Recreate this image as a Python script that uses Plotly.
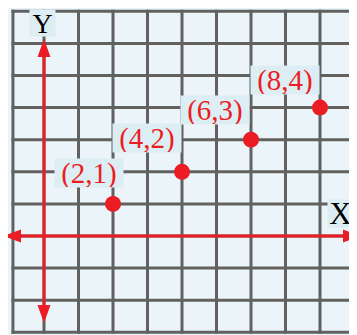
import plotly.graph_objects as go

# ---- data ----
point_x = [2, 4, 6, 8]
point_y = [1, 2, 3, 4]
point_labels = ["(2,1)", "(4,2)", "(6,3)", "(8,4)"]
grid_x = [0, 1, 2, 3, 4, 5, 6, 7, 8, 9]
grid_y = [-3, -2, -1, 0, 1, 2, 3, 4, 5, 6, 7]
grid_left = -0.9
axis_x_label = "X"
axis_y_label = "Y"

# ---- layout constants ----
# the page has a default 8px body margin, so the figure is drawn 8px smaller
OFF = 8
W, H = 357 - OFF, 335 - OFF
sx, sy = 34.5, 32.1                 # px per unit
X0_PX, Y0_PX = 44, 236              # reference pixel position of the origin
X_RANGE = [(OFF - X0_PX) / sx, (OFF + W - X0_PX) / sx]
Y_RANGE = [(Y0_PX - OFF - H) / sy, (Y0_PX - OFF) / sy]

RED = "#EC1C24"
GRID = "#616161"
BG = "#EBF5F9"
BOX = "#DCEEF3"
LW_GRID = 3
LW_AXIS = 3

# label offsets in px (dx right, dy up)
label_offsets = [(-24, 31), (-35, 34), (-36, 30), (-35, 28)]


def px2x(p):
    return (p - X0_PX) / sx


def px2y(p):
    return (Y0_PX - p) / sy


shapes = []
ext_x = (LW_GRID / 2) / sx
ext_y = (LW_GRID / 2) / sy
gy0, gy1 = min(grid_y), max(grid_y)
gx0, gx1 = grid_left, max(grid_x)
for gx in [grid_left] + grid_x:
    shapes.append(dict(type="line", xref="x", yref="y", layer="below",
                       x0=gx, x1=gx, y0=gy0 - ext_y, y1=gy1 + ext_y,
                       line=dict(color=GRID, width=LW_GRID)))
for gy in grid_y:
    shapes.append(dict(type="line", xref="x", yref="y", layer="below",
                       x0=gx0 - ext_x, x1=gx1 + ext_x, y0=gy, y1=gy,
                       line=dict(color=GRID, width=LW_GRID)))

# red axes with arrowheads
ax_left, ax_right = px2x(3), px2x(361)
ay_top, ay_bottom = px2y(39), px2y(323)
AL, AW = 18, 6.5  # arrowhead length / half width in px
shapes.append(dict(type="line", xref="x", yref="y", layer="below",
                   x0=ax_left + AL / sx * 0.5, x1=ax_right - AL / sx * 0.5, y0=0, y1=0,
                   line=dict(color=RED, width=LW_AXIS)))
shapes.append(dict(type="line", xref="x", yref="y", layer="below",
                   x0=0, x1=0, y0=ay_bottom + AL / sy * 0.5, y1=ay_top - AL / sy * 0.5,
                   line=dict(color=RED, width=LW_AXIS)))


def tri(p1, p2, p3):
    return "M{},{} L{},{} L{},{} Z".format(p1[0], p1[1], p2[0], p2[1], p3[0], p3[1])


heads = [
    tri((ax_left, 0), (ax_left + AL / sx, AW / sy), (ax_left + AL / sx, -AW / sy)),
    tri((ax_right, 0), (ax_right - AL / sx, AW / sy), (ax_right - AL / sx, -AW / sy)),
    tri((0, ay_top), (AW / sx, ay_top - AL / sy), (-AW / sx, ay_top - AL / sy)),
    tri((0, ay_bottom), (AW / sx, ay_bottom + AL / sy), (-AW / sx, ay_bottom + AL / sy)),
]
for pth in heads:
    shapes.append(dict(type="path", xref="x", yref="y", layer="below", path=pth,
                       fillcolor=RED, line=dict(width=0)))

fig = go.Figure()
fig.add_trace(go.Scatter(x=point_x, y=point_y, mode="markers",
                         marker=dict(size=16, color=RED, line=dict(width=0)),
                         hoverinfo="skip", showlegend=False))

annotations = []
for xv, yv, lab, (dx, dy) in zip(point_x, point_y, point_labels, label_offsets):
    annotations.append(dict(x=xv, y=yv, xref="x", yref="y", text=lab, showarrow=False,
                            xshift=dx, yshift=dy, bgcolor=BOX, borderpad=0,
                            width=68, height=28,
                            font=dict(family="Liberation Serif", size=29, color=RED)))
annotations.append(dict(x=0, y=max(grid_y), xref="x", yref="y", text=axis_y_label,
                        showarrow=False, xshift=-1.5, yshift=-12, bgcolor=BOX,
                        borderpad=0, width=25, height=26,
                        font=dict(family="Liberation Serif", size=28, color="black")))
annotations.append(dict(x=max(grid_x), y=0, xref="x", yref="y", text=axis_x_label,
                        showarrow=False, xshift=-14.5, yshift=23, bgcolor=BOX,
                        borderpad=0, width=25, height=27,
                        font=dict(family="Liberation Serif", size=31, color="black")))

fig.update_layout(
    width=W, height=H, margin=dict(l=0, r=0, t=0, b=0),
    paper_bgcolor=BG, plot_bgcolor=BG,
    xaxis=dict(range=X_RANGE, visible=False, fixedrange=True),
    yaxis=dict(range=Y_RANGE, visible=False, fixedrange=True),
    shapes=shapes, annotations=annotations, showlegend=False,
)
fig.write_html("out.html")
